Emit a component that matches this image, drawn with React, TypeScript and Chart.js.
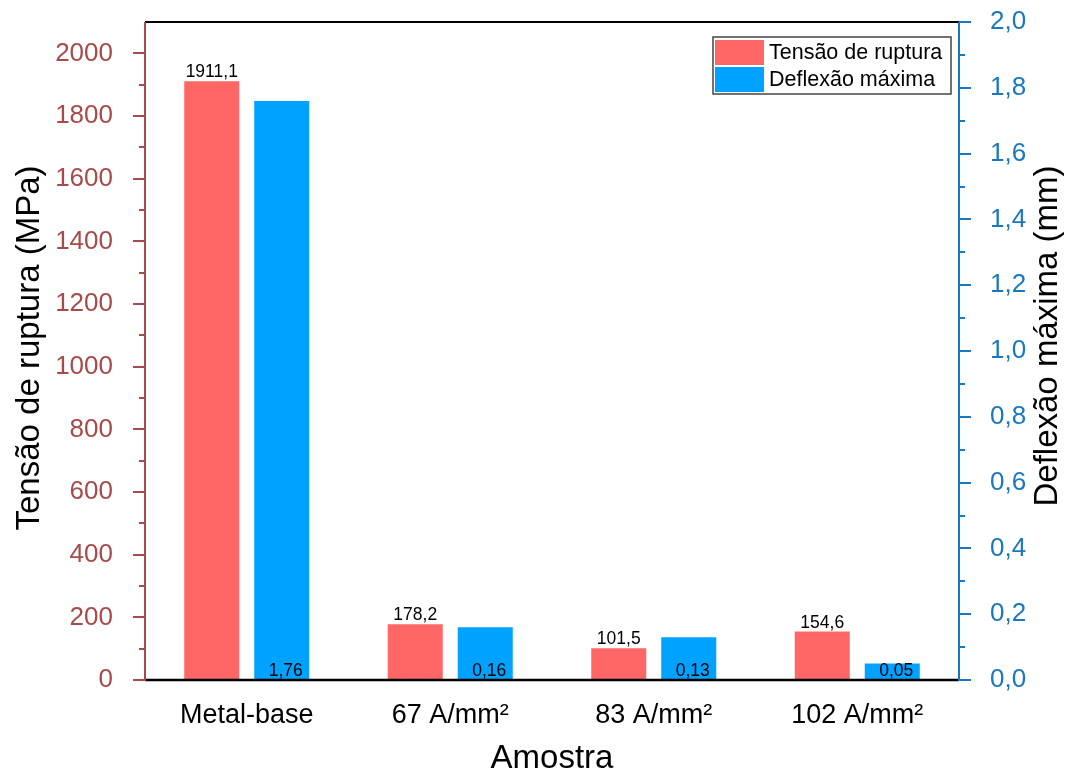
import React, { useEffect, useRef } from "react";
import { Chart, registerables } from "chart.js";

Chart.register(...registerables);

// Samples and measured values
const categories = ["Metal-base", "67 A/mm²", "83 A/mm²", "102 A/mm²"];
const tensaoRuptura = [1911.1, 178.2, 101.5, 154.6]; // MPa
const deflexaoMaxima = [1.76, 0.16, 0.13, 0.05]; // mm

// Axis ticks
const leftMajorTicks = [0, 200, 400, 600, 800, 1000, 1200, 1400, 1600, 1800, 2000];
const leftMinorTicks = [100, 300, 500, 700, 900, 1100, 1300, 1500, 1700, 1900];
const rightMajorTicks = [0, 0.2, 0.4, 0.6, 0.8, 1.0, 1.2, 1.4, 1.6, 1.8, 2.0];
const rightMinorTicks = [0.1, 0.3, 0.5, 0.7, 0.9, 1.1, 1.3, 1.5, 1.7, 1.9];

const seriesNames = ["Tensão de ruptura", "Deflexão máxima"];
const xTitle = "Amostra";
const leftTitle = "Tensão de ruptura (MPa)";
const rightTitle = "Deflexão máxima (mm)";

const FONT = "'Liberation Sans', Arial, sans-serif";
const RED = "#FF6666";
const BLUE = "#00A2FF";
const LEFT_AXIS = "#A84A4A";
const RIGHT_AXIS = "#1A78C0";

const fmtComma = (v: number, d: number) => v.toFixed(d).replace(".", ",");

// Axis lines, outward major/minor ticks and frame
const axesPlugin = {
  id: "axesFrame",
  afterDatasetsDraw(chart: any) {
    const { ctx, chartArea } = chart;
    const { left, right, top, bottom } = chartArea;
    const yL = chart.scales.y;
    const yR = chart.scales.y1;
    ctx.save();
    // top border
    ctx.strokeStyle = "#000";
    ctx.lineWidth = 2;
    ctx.beginPath();
    ctx.moveTo(left, top);
    ctx.lineTo(right, top);
    ctx.stroke();
    // bottom axis
    ctx.lineWidth = 2.5;
    ctx.beginPath();
    ctx.moveTo(left, bottom);
    ctx.lineTo(right, bottom);
    ctx.stroke();
    // left axis
    ctx.strokeStyle = LEFT_AXIS;
    ctx.lineWidth = 2;
    ctx.beginPath();
    ctx.moveTo(left, top);
    ctx.lineTo(left, bottom + 1);
    for (const v of leftMajorTicks) {
      const p = Math.round(yL.getPixelForValue(v));
      ctx.moveTo(left, p);
      ctx.lineTo(left - 12, p);
    }
    for (const v of leftMinorTicks) {
      const p = Math.round(yL.getPixelForValue(v));
      ctx.moveTo(left, p);
      ctx.lineTo(left - 6, p);
    }
    ctx.stroke();
    // right axis
    ctx.strokeStyle = RIGHT_AXIS;
    ctx.beginPath();
    ctx.moveTo(right, top);
    ctx.lineTo(right, bottom + 1);
    for (const v of rightMajorTicks) {
      const p = Math.round(yR.getPixelForValue(v));
      ctx.moveTo(right, p);
      ctx.lineTo(right + 12, p);
    }
    for (const v of rightMinorTicks) {
      const p = Math.round(yR.getPixelForValue(v));
      ctx.moveTo(right, p);
      ctx.lineTo(right + 6, p);
    }
    ctx.stroke();
    ctx.restore();
  },
};

// Value labels: above the stress bars, at the base of the deflection bars
const valueLabelPlugin = {
  id: "valueLabels",
  afterDatasetsDraw(chart: any) {
    const { ctx } = chart;
    ctx.save();
    ctx.font = `17.5px ${FONT}`;
    ctx.fillStyle = "#000";
    ctx.textAlign = "center";
    ctx.textBaseline = "bottom";
    const m0 = chart.getDatasetMeta(0);
    m0.data.forEach((bar: any, i: number) => {
      ctx.fillText(fmtComma(tensaoRuptura[i], 1), bar.x, bar.y);
    });
    const m1 = chart.getDatasetMeta(1);
    m1.data.forEach((bar: any, i: number) => {
      ctx.fillText(fmtComma(deflexaoMaxima[i], 2), bar.x + 4, bar.base);
    });
    ctx.restore();
  },
};

// Axis titles and framed legend
const titlesLegendPlugin = {
  id: "titlesLegend",
  afterDraw(chart: any) {
    const { ctx, chartArea } = chart;
    const { left, right } = chartArea;
    ctx.save();
    ctx.fillStyle = "#000";
    ctx.font = `33px ${FONT}`;
    ctx.textAlign = "center";
    ctx.textBaseline = "alphabetic";
    ctx.fillText(xTitle, (left + right) / 2, 768);

    ctx.save();
    ctx.translate(39, 348);
    ctx.rotate(-Math.PI / 2);
    ctx.fillText(leftTitle, 0, 0);
    ctx.restore();

    ctx.save();
    ctx.translate(1057, 336);
    ctx.rotate(-Math.PI / 2);
    ctx.fillText(rightTitle, 0, 0);
    ctx.restore();

    // legend box
    const lx = 713, ly = 37, lw = 238, lh = 57;
    ctx.fillStyle = "#fff";
    ctx.fillRect(lx, ly, lw, lh);
    ctx.strokeStyle = "#444";
    ctx.lineWidth = 1.5;
    ctx.strokeRect(lx, ly, lw, lh);
    const colors = [RED, BLUE];
    ctx.font = `21.5px ${FONT}`;
    ctx.textAlign = "left";
    ctx.textBaseline = "middle";
    seriesNames.forEach((name, i) => {
      const sy = ly + 3 + i * 27;
      ctx.fillStyle = colors[i];
      ctx.fillRect(lx + 2, sy, 49, 25);
      ctx.fillStyle = "#000";
      ctx.fillText(name, lx + 56, sy + 13);
    });
    ctx.restore();
  },
};

const fitVertical = (width: number) => (s: any) => {
  s.width = width;
  s.paddingTop = 0;
  s.paddingBottom = 0;
};

export default function App() {
  const canvasRef = useRef<HTMLCanvasElement | null>(null);

  useEffect(() => {
    document.body.style.margin = "0";
    const canvas = canvasRef.current;
    if (!canvas) return;
    const chart = new Chart(canvas, {
      type: "bar",
      data: {
        labels: categories,
        datasets: [
          {
            label: seriesNames[0],
            data: tensaoRuptura,
            backgroundColor: RED,
            yAxisID: "y",
            categoryPercentage: 0.688,
            barPercentage: 0.786,
          },
          {
            label: seriesNames[1],
            data: deflexaoMaxima,
            backgroundColor: BLUE,
            yAxisID: "y1",
            categoryPercentage: 0.688,
            barPercentage: 0.786,
          },
        ],
      },
      options: {
        animation: false,
        responsive: false,
        layout: { padding: { top: 22, left: 0, right: 0, bottom: 0 } },
        plugins: {
          legend: { display: false },
          tooltip: { enabled: false },
          title: { display: false },
        },
        scales: {
          x: {
            position: "bottom",
            grid: { display: false },
            border: { display: false },
            ticks: {
              color: "#000",
              font: { family: FONT, size: 27 },
              padding: 11,
              maxRotation: 0,
            },
            afterFit: (s: any) => {
              s.height = 95;
              s.paddingLeft = 0;
              s.paddingRight = 0;
            },
          },
          y: {
            position: "left",
            min: 0,
            max: 2100,
            grid: { display: false },
            border: { display: false },
            afterBuildTicks: (s: any) => {
              s.ticks = leftMajorTicks.map((v) => ({ value: v }));
            },
            ticks: {
              color: LEFT_AXIS,
              font: { family: FONT, size: 26 },
              padding: 24,
              callback: (v: any) => String(v),
            },
            afterFit: fitVertical(145),
          },
          y1: {
            position: "right",
            min: 0,
            max: 2.0,
            grid: { display: false },
            border: { display: false },
            afterBuildTicks: (s: any) => {
              s.ticks = rightMajorTicks.map((v) => ({ value: v }));
            },
            ticks: {
              color: RIGHT_AXIS,
              font: { family: FONT, size: 26 },
              padding: 23,
              callback: (v: any) => fmtComma(Number(v), 1),
            },
            afterFit: fitVertical(109),
          },
        },
      },
      plugins: [axesPlugin, valueLabelPlugin, titlesLegendPlugin],
    });
    return () => chart.destroy();
  }, []);

  return (
    <div style={{ width: 1068, height: 775, background: "#fff" }}>
      <canvas ref={canvasRef} width={1068} height={775} style={{ display: "block" }} />
    </div>
  );
}
